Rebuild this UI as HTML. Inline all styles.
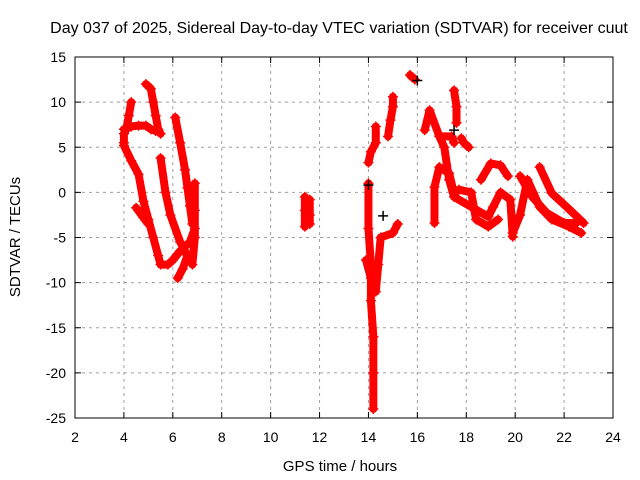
<!DOCTYPE html>
<html><head><meta charset="utf-8"><style>
body{margin:0;background:#fff;}
svg{display:block;font-family:"Liberation Sans",sans-serif;}
</style></head><body>
<svg id="chart" width="640" height="480" viewBox="0 0 640 480" xmlns="http://www.w3.org/2000/svg">
<rect width="640" height="480" fill="#fff"/>
<text x="339" y="33" font-size="16" text-anchor="middle" fill="#000">Day 037 of 2025, Sidereal Day-to-day VTEC variation (SDTVAR) for receiver cuut</text>
<g id="grid"></g>
<g id="axes"></g>
<g id="marks"></g>
<text x="340" y="471" font-size="15" text-anchor="middle">GPS time / hours</text>
<text transform="translate(20,237) rotate(-90)" font-size="15" text-anchor="middle">SDTVAR / TECUs</text>
</svg>
<script>
const xTicks=[2,4,6,8,10,12,14,16,18,20,22,24];
const yTicks=[15,10,5,0,-5,-10,-15,-20,-25];
const track1=[[4.3,10],[4.2,8.5],[4.1,7.0],[4.0,6.5],[4.0,5.5]];
const track2=[[4.0,7.0],[4.3,7.3],[4.6,7.4],[4.9,7.4],[5.1,7.0],[5.3,6.8]];
const track3=[[4.9,12],[5.1,11.5],[5.2,10],[5.3,8.5],[5.4,7.0],[5.5,6.5]];
const track4=[[4.0,5.2],[4.3,3.5],[4.6,2],[4.8,-1],[5.0,-3],[5.2,-5],[5.4,-7],[5.5,-8],[5.8,-8],[6.0,-7.5],[6.3,-6.5],[6.5,-6],[6.7,-5.5],[6.9,-4]];
const track5=[[6.1,8.3],[6.3,5.5],[6.5,2.5],[6.6,0.5],[6.7,-1.5],[6.8,-3.5]];
const track6=[[5.5,3.8],[5.7,0],[5.9,-2.5],[6.3,-5.5],[6.6,-7],[6.4,-8.5],[6.2,-9.5]];
const track7=[[4.5,-1.7],[4.8,-2.8],[5.0,-3.5]];
const track8=[[6.9,1],[6.9,-2],[6.9,-5],[6.8,-8]];
const track9=[[11.4,-0.5],[11.4,-2],[11.4,-3.8]];
const track10=[[11.6,-0.8],[11.6,-2.5],[11.6,-3.5]];
const track11=[[14.0,1],[14.0,-4],[14.1,-8],[14.1,-12],[14.2,-16],[14.2,-20],[14.2,-24]];
const track12=[[13.9,-7.5],[14.1,-9.5],[14.3,-11],[14.4,-8],[14.5,-5],[15.0,-4.5],[15.2,-3.5]];
const track13=[[14.0,3.3],[14.1,4.5],[14.3,5.5],[14.3,7.3]];
const track14=[[14.8,6.2],[14.9,8],[15.0,9.5],[15.0,10.6]];
const track15=[[15.7,13],[15.9,12.5]];
const track16=[[16.3,6.9],[16.5,9.1],[16.9,6.2],[17.4,6.2],[17.5,5.5]];
const track17=[[17.5,11.3],[17.6,9.5],[17.6,7.7]];
const track18=[[17.8,6],[17.9,5.5],[18.1,5]];
const track19=[[16.9,6.2],[17.1,5],[17.3,1.4],[17.5,-0.5],[18.2,-1.6],[18.9,-2.7],[19.1,-1.6],[19.4,0],[19.8,-0.8],[19.9,-4.9]];
const track20=[[16.7,-3.4],[16.7,0.6],[16.9,2.8],[17.3,2.1],[17.5,-0.1],[17.7,0.3],[18.2,0],[18.4,-3],[18.9,-3.8],[19.3,-3]];
const track21=[[18.6,1.4],[19.0,3.2],[19.4,3.0],[19.7,1.8]];
const track22=[[20.2,1.8],[20.7,-0.5],[21.3,-2.3],[22.0,-3.4],[22.5,-3.4]];
const track23=[[21.0,2.8],[21.5,-0.1],[22.1,-1.6],[22.8,-3.4]];
const track24=[[19.9,-4.5],[20.2,-2.5],[20.5,1.4],[21.0,-1.6],[21.5,-3],[22.2,-3.8],[22.7,-4.5]];
const tracks=[track1,track2,track3,track4,track5,track6,track7,track8,track9,track10,track11,track12,track13,track14,track15,track16,track17,track18,track19,track20,track21,track22,track23,track24];
const blackPts=[[14.0,0.8],[14.6,-2.6],[17.5,6.9],[16.0,12.4]];

const X0=75,X1=613,Y0=57,Y1=418;
const sx=v=>X0+(v-2)/22*(X1-X0);
const sy=v=>Y0+(15-v)/40*(Y1-Y0);
const NS="http://www.w3.org/2000/svg";
function mk(tag,attrs,parent){const e=document.createElementNS(NS,tag);for(const k in attrs)e.setAttribute(k,attrs[k]);parent.appendChild(e);return e;}
const grid=document.getElementById('grid'),axes=document.getElementById('axes'),marks=document.getElementById('marks');
xTicks.forEach(t=>{
  const x=sx(t);
  if(t>2&&t<24){const g=mk('line',{x1:x,x2:x,y1:Y0,y2:Y1,stroke:'#a0a0a0','stroke-dasharray':'3,4'},grid);
  
  }
  mk('line',{x1:x,x2:x,y1:Y1,y2:Y1-6,stroke:'#000'},axes);
  mk('line',{x1:x,x2:x,y1:Y0,y2:Y0+6,stroke:'#000'},axes);
  const l=mk('text',{x:x,y:Y1+24,'font-size':14,'text-anchor':'middle'},axes);l.textContent=t;
  
  
});
yTicks.forEach(t=>{
  const y=sy(t);
  if(t<15&&t>-25){const g=mk('line',{x1:X0,x2:X1,y1:y,y2:y,stroke:'#a0a0a0','stroke-dasharray':'3,4'},grid);
  
  }
  mk('line',{x1:X0,x2:X0+6,y1:y,y2:y,stroke:'#000'},axes);
  mk('line',{x1:X1,x2:X1-6,y1:y,y2:y,stroke:'#000'},axes);
  const l=mk('text',{x:X0-9,y:y+5,'font-size':14,'text-anchor':'end'},axes);l.textContent=t;
  
  
});
const fr=mk('rect',{x:X0,y:Y0,width:X1-X0,height:Y1-Y0,fill:'none',stroke:'#000'},axes);


function plus(x,y,c,p){mk('path',{d:`M${x-5},${y}h10M${x},${y-5}v10`,stroke:c,'stroke-width':1.5},p);}
tracks.forEach(tr=>{
  const pl=mk('polyline',{points:tr.map(p=>sx(p[0])+','+sy(p[1])).join(' '),fill:'none',stroke:'#f00','stroke-width':8,'stroke-linejoin':'round','stroke-linecap':'round'},marks);
  
  
  tr.forEach(p=>plus(sx(p[0]),sy(p[1]),'#f00',marks));
});
blackPts.forEach(p=>plus(sx(p[0]),sy(p[1]),'#000',marks));
</script>
</body></html>
